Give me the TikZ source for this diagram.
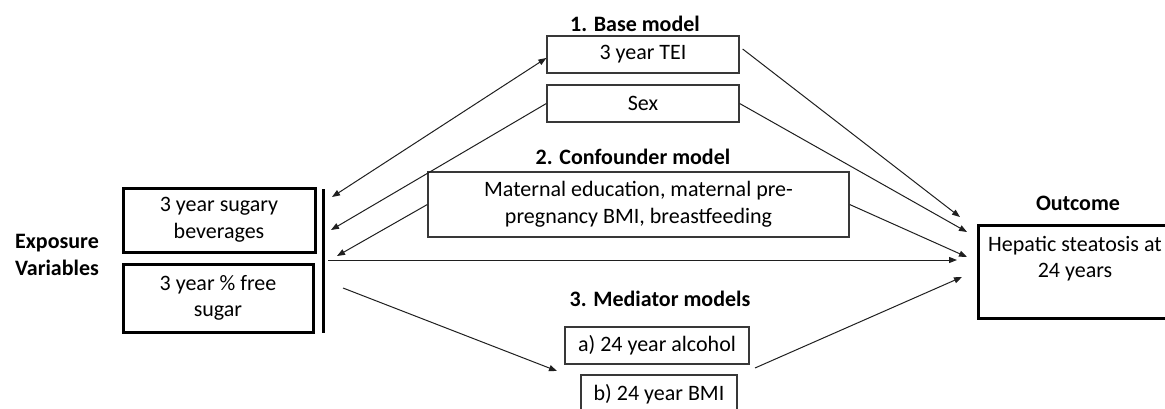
\documentclass[tikz,border=0pt]{standalone}
\usepackage{fontspec}
\setmainfont{Carlito}
\usetikzlibrary{arrows.meta}
\begin{document}
\begin{tikzpicture}[x=1pt,y=-1pt,
  every node/.style={font=\fontsize{22}{26.5}\selectfont, inner sep=0pt},
  thinbox/.style={draw=black!78, line width=1.3pt, align=center},
  thickbox/.style={draw=black, line width=3pt, align=center},
  heading/.style={font=\fontsize{22}{26.5}\selectfont\bfseries, align=center},
  arr/.style={draw=black!88, line width=1pt, -{Triangle[length=8pt,width=6pt]}},
  darr/.style={draw=black!88, line width=1pt, {Triangle[length=8pt,width=6pt]}-{Triangle[length=8pt,width=6pt]}},
  bar/.style={draw=black, line width=3pt}]
\useasboundingbox (0,0) rectangle (1165,409);
\clip (0,0) rectangle (1165,409);

% headings
\node[heading] (h1) at (635,24) {1. Base model};
\node[heading] (h2) at (633,157) {2. Confounder model};
\node[heading] (h3) at (660,299) {3. Mediator models};
\node[heading] (hout) at (1078,203) {Outcome};
\node[heading] (hexp) at (57,255) {Exposure\\Variables};

% base model boxes
\node[thinbox, minimum width=192, minimum height=37] (tei) at (643,54.5) {3 year TEI};
\node[thinbox, minimum width=192, minimum height=37] (sex) at (643,103.5) {Sex};
% confounder box
\node[thinbox, minimum width=421, minimum height=65] (conf) at (638.5,204.5) {Maternal education, maternal pre-\\pregnancy BMI, breastfeeding};
% mediator boxes
\node[thinbox, minimum width=184, minimum height=37] (alc) at (657,345.5) {a) 24 year alcohol};
\node[thinbox, minimum width=156, minimum height=38] (bmi) at (659,394) {b) 24 year BMI};

% exposure boxes
\node[thickbox, minimum width=192, minimum height=64] (sug) at (219,220) {3 year sugary\\beverages};
\node[thickbox, minimum width=190, minimum height=68] (free) at (218,298) {3 year \% free\\sugar};
\coordinate (bartop) at (323,189);
\coordinate (barbot) at (323,333);
\draw[bar] (bartop) -- (barbot);

% outcome box
\node[thickbox, minimum width=210, minimum height=93, anchor=north west] (outcome) at (977,224) {};
\node[align=center] (outtext) at (1075,258.5) {Hepatic steatosis at\\24 years};

% left side endpoints
\coordinate (e1) at (332,197);
\coordinate (e2) at (331,230);
\coordinate (e3) at (337,256);
\coordinate (e4) at (328,260);
\coordinate (e5) at (343,288);
\coordinate (m1) at (557,371);
\coordinate (m2) at (755,368);
% outcome endpoints
\coordinate (o1) at (960,217);
\coordinate (o2) at (967,232);
\coordinate (o3) at (967,257);
\coordinate (o4) at (957,260);
\coordinate (o5) at (962,277);

\draw[darr] (e1) -- ([yshift=-3.5pt]tei.west);
\draw[arr] (sex.west) -- (e2);
\draw[arr] (conf.west) -- (e3);
\draw[arr] (e4) -- (o4);
\draw[arr] (e5) -- (m1);
\draw[arr] (m2) -- (o5);
\draw[arr] ([xshift=3pt,yshift=5.5pt]tei.east) -- (o1);
\draw[arr] (sex.east) -- (o2);
\draw[arr] (conf.east) -- (o3);
\end{tikzpicture}
\end{document}
